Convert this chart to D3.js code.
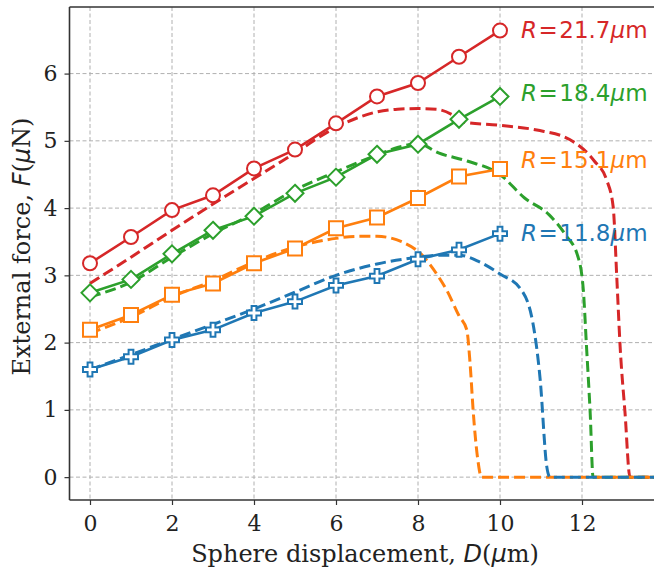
<!DOCTYPE html>
<html>
<head>
<meta charset="utf-8">
<script src="https://cdn.jsdelivr.net/npm/d3@7"></script>
<style>
  body { margin: 0; background: #fff; }
  svg { display: block; }
</style>
</head>
<body>
<div id="chart"></div>
<script>
// measured points (solid lines with markers), D = 0..10
var dispSteps = [0, 1, 2, 3, 4, 5, 6, 7, 8, 9, 10];
var measR217 = [3.18, 3.57, 3.97, 4.19, 4.59, 4.87, 5.26, 5.66, 5.86, 6.25, 6.64];
var measR184 = [2.74, 2.94, 3.32, 3.67, 3.88, 4.22, 4.46, 4.80, 4.95, 5.32, 5.66];
var measR151 = [2.19, 2.41, 2.71, 2.88, 3.18, 3.40, 3.70, 3.86, 4.15, 4.47, 4.58];
var measR118 = [1.60, 1.79, 2.04, 2.19, 2.44, 2.61, 2.85, 2.99, 3.24, 3.38, 3.62];

// simulated curves (dashed)
var simR217x = [0, 1, 2, 3, 4, 5, 6, 7, 7.5, 8, 8.45, 8.86, 9.1, 10, 10.9, 11.7, 12.3, 12.6, 12.76, 12.85, 12.93, 13.05, 13.17, 14];
var simR217y = [2.88, 3.27, 3.67, 4.06, 4.44, 4.82, 5.20, 5.43, 5.47, 5.48, 5.47, 5.38, 5.28, 5.23, 5.16, 5.02, 4.70, 4.42, 4.02, 2.95, 1.94, 0.95, 0, 0];
var simR184x = [0, 1, 2, 3, 4, 5, 6, 7, 7.5, 8, 8.5, 9.2, 10, 10.6, 11.2, 11.6, 11.9, 12.03, 12.11, 12.2, 12.27, 14];
var simR184y = [2.68, 2.90, 3.27, 3.62, 3.92, 4.27, 4.54, 4.79, 4.90, 4.96, 4.82, 4.70, 4.50, 4.15, 3.90, 3.60, 3.28, 2.80, 1.94, 0.95, 0, 0];
var simR151x = [0, 1, 2, 3, 4, 5, 6, 6.5, 7, 7.6, 8.05, 8.5, 8.7, 9.0, 9.19, 9.27, 9.35, 9.45, 9.55, 14];
var simR151y = [2.14, 2.38, 2.68, 2.92, 3.20, 3.42, 3.55, 3.58, 3.58, 3.50, 3.33, 2.98, 2.78, 2.40, 2.19, 1.69, 0.95, 0.30, 0, 0];
var simR118x = [0, 1, 2, 3, 4, 5, 6, 7, 8, 8.5, 9, 9.5, 10, 10.5, 10.8, 10.98, 11.14, 11.22, 14];
var simR118y = [1.60, 1.82, 2.05, 2.27, 2.50, 2.75, 3.00, 3.17, 3.27, 3.30, 3.30, 3.20, 3.02, 2.80, 2.30, 1.45, 0.16, 0, 0];

var radii = ["21.7", "18.4", "15.1", "11.8"];
var colors = ["#d62728", "#2ca02c", "#ff7f0e", "#1f77b4"];
var markers = ["circle", "diamond", "square", "plus"];

var xTicks = [0, 2, 4, 6, 8, 10, 12];
var yTicks = [0, 1, 2, 3, 4, 5, 6];

var W = 654, H = 569;
var padL = 69.5, padT = 7, padB = 500;

var x = d3.scaleLinear().domain([-0.5, 14.3]).range([padL, padL + 14.8 * 41]);
var y = d3.scaleLinear().domain([-0.34, 6.99]).range([padB, padT]);

var svg = d3.select("#chart").append("svg")
    .attr("width", W)
    .attr("height", H)
    .style("background", "#fff");

// grid
var grid = svg.append("g").attr("class", "grid");
grid.selectAll("line.gx").data(xTicks).enter().append("line")
    .attr("x1", function(d){ return x(d); }).attr("x2", function(d){ return x(d); })
    .attr("y1", padT).attr("y2", padB)
    .style("stroke", "#b0b0b0").style("stroke-width", 1).style("stroke-dasharray", "4,2.5");
grid.selectAll("line.gy").data(yTicks).enter().append("line")
    .attr("x1", padL).attr("x2", W)
    .attr("y1", function(d){ return y(d); }).attr("y2", function(d){ return y(d); })
    .style("stroke", "#b0b0b0").style("stroke-width", 1).style("stroke-dasharray", "4,2.5");

var simX = [simR217x, simR184x, simR151x, simR118x];
var simY = [simR217y, simR184y, simR151y, simR118y];
var meas = [measR217, measR184, measR151, measR118];

var plot = svg.append("g");

var dashLine = d3.line()
    .x(function(d){ return x(d[0]); })
    .y(function(d){ return y(d[1]); })
    .curve(d3.curveMonotoneX);

simX.forEach(function(xs, i){
  var pts = xs.map(function(v, j){ return [v, simY[i][j]]; });
  plot.append("path")
      .attr("d", dashLine(pts))
      .style("fill", "none")
      .style("stroke", colors[i])
      .style("stroke-width", 3)
      .style("stroke-dasharray", "11,5");
});

var solidLine = d3.line()
    .x(function(d){ return x(d[0]); })
    .y(function(d){ return y(d[1]); });

function markerPath(kind){
  if (kind == "circle") return d3.symbol().type(d3.symbolCircle).size(Math.PI * 49)();
  if (kind == "square") return "M-7,-7L7,-7L7,7L-7,7Z";
  if (kind == "diamond") return "M0,-8.5L8.5,0L0,8.5L-8.5,0Z";
  var s = 7, a = 2.4;
  return "M" + (-a) + "," + (-s) + "L" + a + "," + (-s) + "L" + a + "," + (-a) + "L" + s + "," + (-a) +
         "L" + s + "," + a + "L" + a + "," + a + "L" + a + "," + s + "L" + (-a) + "," + s +
         "L" + (-a) + "," + a + "L" + (-s) + "," + a + "L" + (-s) + "," + (-a) + "L" + (-a) + "," + (-a) + "Z";
}

meas.forEach(function(vals, i){
  var pts = dispSteps.map(function(d, j){ return [d, vals[j]]; });
  plot.append("path")
      .attr("d", solidLine(pts))
      .style("fill", "none")
      .style("stroke", colors[i])
      .style("stroke-width", 2.6);
  plot.selectAll("path.m" + i).data(pts).enter().append("path")
      .attr("class", "m" + i)
      .attr("transform", function(d){ return "translate(" + x(d[0]) + "," + y(d[1]) + ")"; })
      .attr("d", markerPath(markers[i]))
      .style("fill", "#fff")
      .style("stroke", colors[i])
      .style("stroke-width", 2);
});

// labels next to the last markers
var labelY = [30, 93, 160, 233];
radii.forEach(function(r, i){
  var t = svg.append("text")
      .attr("x", 521)
      .attr("y", labelY[i])
      .attr("dy", "0.36em")
      .style("font-family", "DejaVu Sans")
      .style("font-size", "23px")
      .style("fill", colors[i]);
  t.append("tspan").style("font-style", "italic").text("R");
  t.append("tspan").attr("dx", 1.5).text("=");
  t.append("tspan").attr("dx", 1.5).text(r);
  t.append("tspan").style("font-style", "italic").text("\u03bc");
  t.append("tspan").text("m");
});

// axes
var xAxis = d3.axisBottom(x).tickValues(xTicks).tickSize(5).tickPadding(10).tickFormat(d3.format("d"));
var yAxis = d3.axisLeft(y).tickValues(yTicks).tickSize(5).tickPadding(7).tickFormat(d3.format("d"));

var gx = svg.append("g").attr("transform", "translate(0," + padB + ")").call(xAxis);
var gy = svg.append("g").attr("transform", "translate(" + padL + ",0)").call(yAxis);
[gx, gy].forEach(function(g){
  g.select(".domain").remove();
  g.selectAll(".tick line").style("stroke", "#333").style("stroke-width", 1.2);
  g.selectAll(".tick text").style("font-family", "DejaVu Serif").style("font-size", "22px").style("fill", "#222");
});

// spines
svg.append("line").attr("x1", padL).attr("x2", padL).attr("y1", padT).attr("y2", padB)
    .style("stroke", "#333").style("stroke-width", 1.6);
svg.append("line").attr("x1", padL).attr("x2", W).attr("y1", padB).attr("y2", padB)
    .style("stroke", "#333").style("stroke-width", 1.6);
svg.append("line").attr("x1", padL).attr("x2", W).attr("y1", padT).attr("y2", padT)
    .style("stroke", "#333").style("stroke-width", 1.6);

// axis titles
var xl = svg.append("text")
    .attr("x", 365).attr("y", 562)
    .attr("text-anchor", "middle")
    .style("font-family", "DejaVu Serif").style("font-size", "24px").style("fill", "#222");
xl.append("tspan").text("Sphere displacement, ");
xl.append("tspan").style("font-family", "DejaVu Sans").style("font-style", "italic").text("D");
xl.append("tspan").text("(");
xl.append("tspan").style("font-family", "DejaVu Sans").style("font-style", "italic").text("\u03bc");
xl.append("tspan").text("m)");

var yl = svg.append("text")
    .attr("transform", "translate(29.5,246.5) rotate(-90)")
    .attr("text-anchor", "middle")
    .style("font-family", "DejaVu Serif").style("font-size", "24px").style("fill", "#222");
yl.append("tspan").text("External force, ");
yl.append("tspan").style("font-family", "DejaVu Sans").style("font-style", "italic").text("F");
yl.append("tspan").text("(");
yl.append("tspan").style("font-family", "DejaVu Sans").style("font-style", "italic").text("\u03bc");
yl.append("tspan").text("N)");
</script>
</body>
</html>
